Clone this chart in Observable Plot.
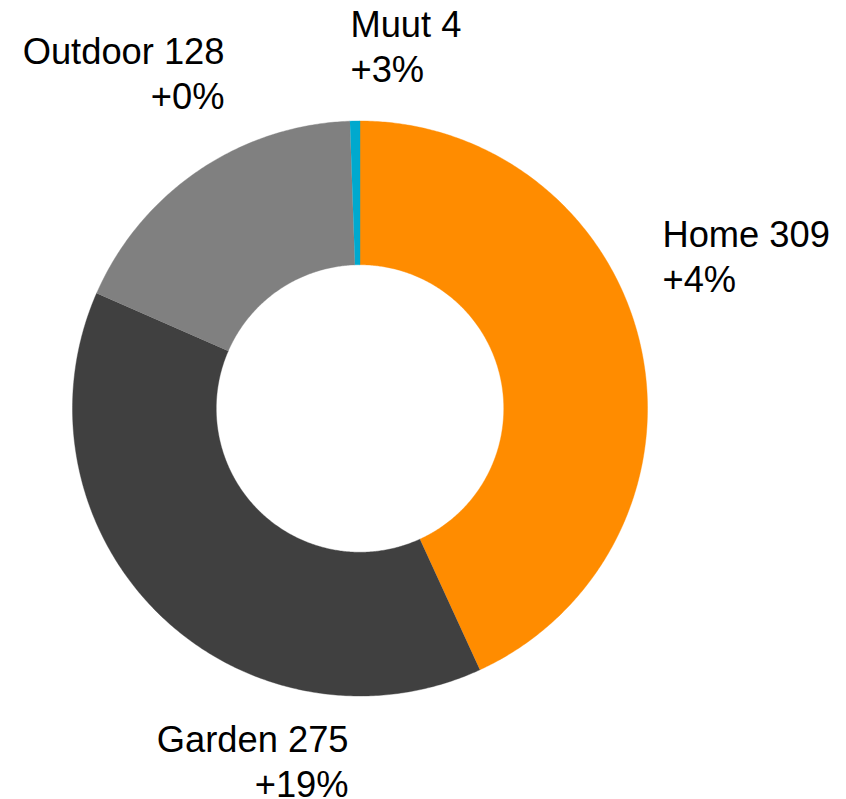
<!DOCTYPE html>
<html><head><meta charset="utf-8">
<script src="https://cdn.jsdelivr.net/npm/d3@7"></script>
<script src="https://cdn.jsdelivr.net/npm/@observablehq/plot@0.6"></script>
<style>html,body{margin:0;padding:0;background:#fff}</style>
</head><body><div id="chart"></div>
<script>
// ---- data ----
const categories = ["Home", "Garden", "Outdoor", "Muut"];
const values = [309, 275, 128, 4];
const changes = ["+4%", "+19%", "+0%", "+3%"];
const colors = ["#FF8C00", "#404040", "#808080", "#00A9CE"];

// ---- layout (not data) ----
const W = 846, H = 799;
const R = 287.5;            // outer radius in px (1 unit)
const cx = 359.5, cy = 408; // donut centre in px
const innerRatio = 0.5;
const labelRadius = 1.1;
// per-label nudges in px from the mid-angle point, and text anchors
const labelNudge = [[-6.5, -126.5], [210.2, 85.4], [42.2, -115.4], [-4, -87.8]];
const labelAnchor = ["start", "end", "end", "start"];

const arcs = d3.pie().sort(null).startAngle(0).endAngle(2 * Math.PI)(values);

// polygon vertices for each slice (unit coordinates, y up)
const pts = [];
arcs.forEach((a, i) => {
  const n = Math.max(2, Math.ceil((a.endAngle - a.startAngle) / (Math.PI / 360)));
  const outer = [], inner = [];
  for (let k = 0; k <= n; k++) {
    const t = a.startAngle + (a.endAngle - a.startAngle) * k / n;
    outer.push({name: categories[i], x: Math.sin(t), y: Math.cos(t)});
    inner.push({name: categories[i], x: innerRatio * Math.sin(t), y: innerRatio * Math.cos(t)});
  }
  pts.push(...outer, ...inner.reverse());
});

const labels = arcs.map((a, i) => {
  const m = (a.startAngle + a.endAngle) / 2;
  return {
    name: categories[i],
    text: `${categories[i]} ${values[i]}\n${changes[i]}`,
    anchor: labelAnchor[i],
    x: labelRadius * Math.sin(m) + labelNudge[i][0] / R,
    y: labelRadius * Math.cos(m) - labelNudge[i][1] / R
  };
});

const font = "'Liberation Sans', Arial, Helvetica, sans-serif";
const textOpts = anchor => ({
  x: "x", y: "y", text: "text", textAnchor: anchor, lineAnchor: "top",
  fontSize: 36.3, lineHeight: 1.255, fill: "#000", fontFamily: font
});

const chart = Plot.plot({
  width: W, height: H,
  margin: 0,
  x: {domain: [(0 - cx) / R, (W - cx) / R], range: [0, W], axis: null},
  y: {domain: [(cy - H) / R, cy / R], range: [H, 0], axis: null},
  color: {domain: categories, range: colors},
  style: {fontFamily: font, background: "#fff"},
  marks: [
    Plot.line(pts, {x: "x", y: "y", z: "name", fill: "name", stroke: "name", strokeWidth: 0.4, curve: "linear"}),
    Plot.text(labels.filter(d => d.anchor === "start"), textOpts("start")),
    Plot.text(labels.filter(d => d.anchor === "end"), textOpts("end"))
  ]
});
document.getElementById("chart").appendChild(chart);
</script>
</body></html>
